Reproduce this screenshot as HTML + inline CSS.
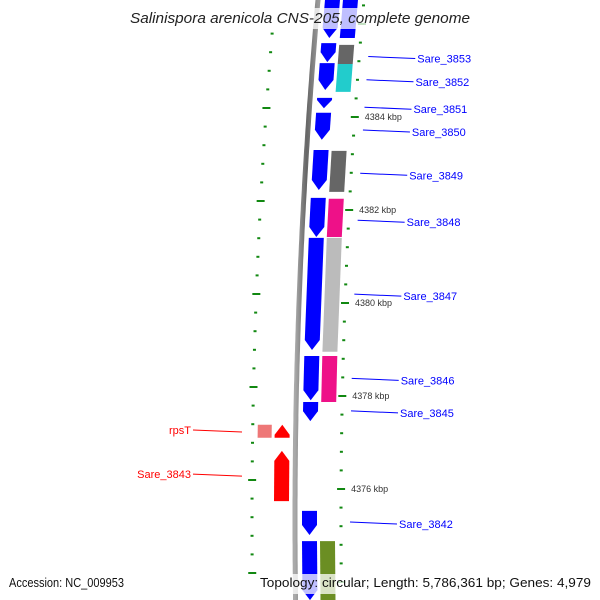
<!DOCTYPE html>
<html><head><meta charset="utf-8"><style>
body{margin:0;background:#fff}
svg{display:block;font-family:"Liberation Sans","DejaVu Sans",sans-serif}
</style></head><body>
<svg id="map" width="600" height="600" viewBox="0 0 600 600">
<defs>
<linearGradient id="bb" x1="0" x2="1"><stop offset="0" stop-color="#aaa"/><stop offset="0.5" stop-color="#666"/><stop offset="1" stop-color="#999"/></linearGradient>
</defs>
<g id="ticks"></g>
<path id="backbone" fill="none" stroke="url(#bb)" stroke-width="5"/>
<g id="genes"></g>
<g id="labels"></g>
<g id="kbp"></g>
<rect x="125" y="8" width="350" height="21" fill="#fff" opacity="0.75"/>
<text x="130" y="23" textLength="340" lengthAdjust="spacingAndGlyphs" font-size="14.5" font-style="italic" fill="#222">Salinispora arenicola CNS-205, complete genome</text>
<rect x="258" y="574" width="336" height="20" fill="#fff" opacity="0.75"/>
<text x="9" y="587" textLength="115" lengthAdjust="spacingAndGlyphs" font-size="13" fill="#111">Accession: NC_009953</text>
<text x="260" y="587" textLength="331" lengthAdjust="spacingAndGlyphs" font-size="13" fill="#111">Topology: circular; Length: 5,786,361 bp; Genes: 4,979</text>
</svg>
<script>
// gene data (kbp)
const geneStart=[4386.52,4385.59,4385.16,4384.41,4384.09,4383.29,4382.26,4381.40,4378.86,4377.87,4375.53,4374.88, 4386.52,4385.55,4385.14,4383.27,4382.24,4381.40,4378.86,4374.88, 4377.38,4377.38,4376.82];
const geneEnd=[4385.70,4385.18,4384.58,4384.19,4383.51,4382.43,4381.42,4378.99,4377.91,4377.46,4375.01,4373.61, 4385.70,4385.14,4384.54,4382.39,4381.42,4378.95,4377.87,4373.61, 4377.10,4377.10,4375.74];
const geneTrack=[1,1,1,1,1,1,1,1,1,1,1,1, 2,2,2,2,2,2,2,2, -2,-1,-1];
const geneColor=["#0000ff","#0000ff","#0000ff","#0000ff","#0000ff","#0000ff","#0000ff","#0000ff","#0000ff","#0000ff","#0000ff","#0000ff","#0000ff","#666666","#22cccc","#666666","#ee1188","#bbbbbb","#ee1188","#6b8e23","#ee7777","#ff0000","#ff0000"];
const geneArrow=[1,1,1,1,1,1,1,1,1,1,1,1,0,0,0,0,0,0,0,0,0,-1,-1];
const labelNames=["Sare_3853","Sare_3852","Sare_3851","Sare_3850","Sare_3849","Sare_3848","Sare_3847","Sare_3846","Sare_3845","Sare_3842"];
const labelPos=[4385.30,4384.80,4384.21,4383.72,4382.79,4381.78,4380.19,4378.38,4377.68,4375.29];
const leftNames=["rpsT","Sare_3843"];
const leftPos=[4377.27,4376.32];
const kbpTicks=[4384,4382,4380,4378,4376];

const NS="http://www.w3.org/2000/svg";
const yOf=k=>117+(4384-k)*46.5;
const bx=y=>295+8.5e-5*(y-520)*(y-520);
function mk(tag,attrs,parent){const e=document.createElementNS(NS,tag);for(const a in attrs)e.setAttribute(a,attrs[a]);parent.appendChild(e);return e;}

let d="";for(let y=-5;y<=605;y+=5)d+=(y<0?"M":"L")+bx(y).toFixed(1)+","+y;
document.getElementById("backbone").setAttribute("d",d);

const tg=document.getElementById("ticks");
for(let i=0;i<=35;i++){const k=4387.2-i*0.4;const maj=Math.abs((k/2)-Math.round(k/2))<0.01;
 const y=yOf(k);if(y<0||y>600)continue;
 const w=maj?8:3;
 const r=mk("rect",{x:bx(y)+46-w/2,y:y-1,width:w,height:2,fill:"#118811"},tg);
 
 const y2=y-9;if(y2>30&&y2<600){const l=mk("rect",{x:bx(y2)-43-w/2,y:y2-1,width:w,height:2,fill:"#118811"},tg);
 }
}
const kg=document.getElementById("kbp");
kbpTicks.forEach(k=>{const y=yOf(k);const t=mk("text",{x:bx(y)+56,y:y+3,"font-size":9,fill:"#333"},kg);t.textContent=k+" kbp";
 });

const gg=document.getElementById("genes");
const off={1:[7,22],2:[25,40],"-1":[-21,-6],"-2":[-38,-24]};
geneStart.forEach((s,i)=>{
 const y1=yOf(s),y2=yOf(geneEnd[i]);const o=off[geneTrack[i]];
 const a=o[0],b=o[1],m=(a+b)/2;let pts;
 const h=Math.min(10,(y2-y1)*0.8);
 if(geneArrow[i]===1){pts=[[a,y1],[b,y1],[b,y2-h],[m,y2],[a,y2-h]];}
 else if(geneArrow[i]===-1){pts=[[m,y1],[b,y1+h],[b,y2],[a,y2],[a,y1+h]];}
 else pts=[[a,y1],[b,y1],[b,y2],[a,y2]];
 const p=mk("polygon",{points:pts.map(q=>(bx(q[1])+q[0]).toFixed(1)+","+q[1].toFixed(1)).join(" "),fill:geneColor[i]},gg);
 
});
const lg=document.getElementById("labels");
labelNames.forEach((n,i)=>{const y=yOf(labelPos[i]);const x0=bx(y)+55;
 mk("line",{x1:x0,y1:y,x2:x0+47,y2:y+2,stroke:"#0000ff","stroke-width":1},lg);
 const t=mk("text",{x:x0+49,y:y+6,"font-size":11,fill:"#0000ff"},lg);t.textContent=n;
 });
leftNames.forEach((n,i)=>{const y=yOf(leftPos[i]);
 mk("line",{x1:193,y1:y,x2:242,y2:y+2,stroke:"#ff0000","stroke-width":1},lg);
 const t=mk("text",{x:191,y:y+4,"font-size":11,fill:"#ff0000","text-anchor":"end"},lg);t.textContent=n;
 });
</script>
</body></html>
